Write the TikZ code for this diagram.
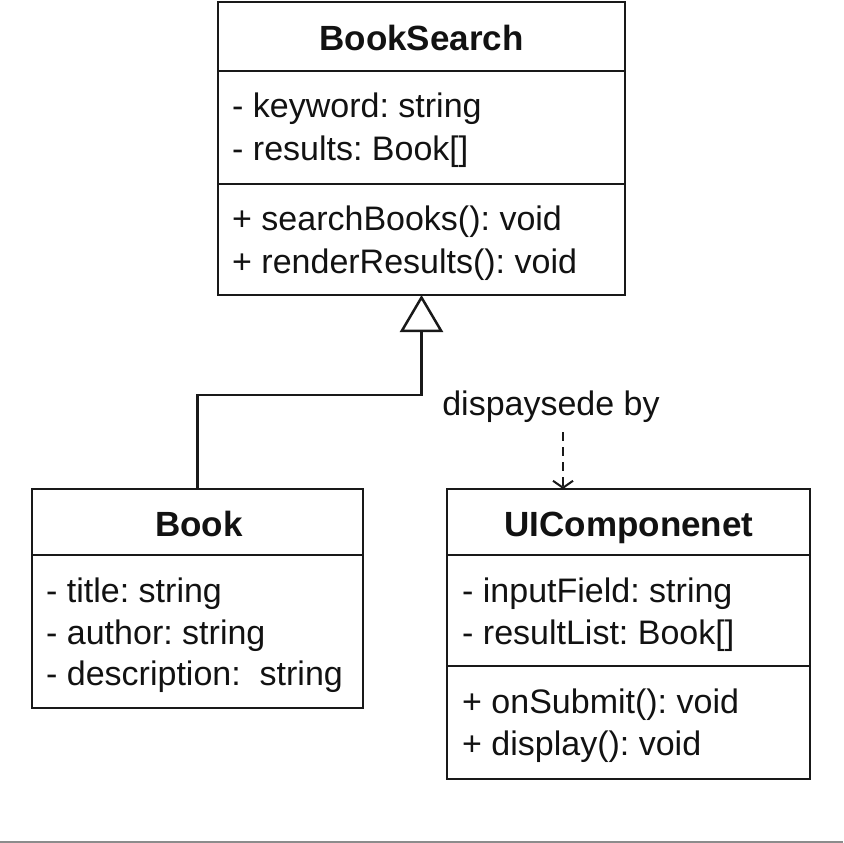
\documentclass[tikz,border=0pt]{standalone}
\usepackage{fontspec}
\setmainfont{Liberation Sans}
\usetikzlibrary{arrows.meta}
\frenchspacing
\begin{document}
\begin{tikzpicture}[x=1pt,y=-1pt,
  every node/.style={font=\fontsize{34}{40}\selectfont, text=black!93},
  umlbox/.style={draw=black!90, line width=2.5pt, inner sep=0pt, outer sep=0pt, anchor=north west},
  sep/.style={draw=black!90, line width=2.5pt},
  txt/.style={anchor=base west, inner sep=0pt},
  ttl/.style={anchor=base, inner sep=0pt, font=\fontsize{35}{40}\selectfont\bfseries},
  conn/.style={draw=black!90, line width=2.5pt}
]
\useasboundingbox (0,0) rectangle (843,843);
% BookSearch
\node[umlbox, minimum width=407pt, minimum height=293pt] (bs) at (218,2) {};
\draw[sep] (218,71) -- (625,71);
\draw[sep] (218,184) -- (625,184);
\node[ttl] (bst) at (421.5,51) {BookSearch};
\node[txt] (bsa1) at (232,117) {- keyword: string};
\node[txt] (bsa2) at (232,160) {- results: Book[]};
\node[txt] (bsm1) at (232,230) {+ searchBooks(): void};
\node[txt] (bsm2) at (232,273) {+ renderResults(): void};
% Book
\node[umlbox, minimum width=331pt, minimum height=219pt] (book) at (32,489) {};
\draw[sep] (32,555) -- (363,555);
\node[ttl] (bookt) at (199,536) {Book};
\node[txt] (booka1) at (46,602) {- title: string};
\node[txt] (booka2) at (46,644) {- author: string};
\node[txt] (booka3) at (46,685) {- description:\ \ string};
% UIComponenet
\node[umlbox, minimum width=363pt, minimum height=290pt] (ui) at (447,489) {};
\draw[sep] (447,555) -- (810,555);
\draw[sep] (447,666) -- (810,666);
\node[ttl] (uit) at (629,536) {UIComponenet};
\node[txt] (uia1) at (462,602) {- inputField: string};
\node[txt] (uia2) at (462,644) {- resultList: Book[]};
\node[txt] (uim1) at (462,713) {+ onSubmit(): void};
\node[txt] (uim2) at (462,755) {+ display(): void};
% generalization
\coordinate (bend) at (421.5,395);
\draw[conn, -{Triangle[open, length=37pt, width=43pt, line width=2.5pt]}]
  (book.north) |- (bend) -- (bs.south);
% dependency
\coordinate (dtop) at (563,432);
\node[anchor=base, inner sep=0pt] (dlab) at (551,415) {dispaysede by};
\draw[draw=black!90, line width=2pt, dash pattern=on 9pt off 6pt,
  -{Straight Barb[length=7pt, width=20pt, line width=2pt]}]
  (dtop) -- (dtop |- ui.north);
% bottom rule
\draw[draw=black!45, line width=2pt] (0,842) -- (843,842);
\end{tikzpicture}
\end{document}
